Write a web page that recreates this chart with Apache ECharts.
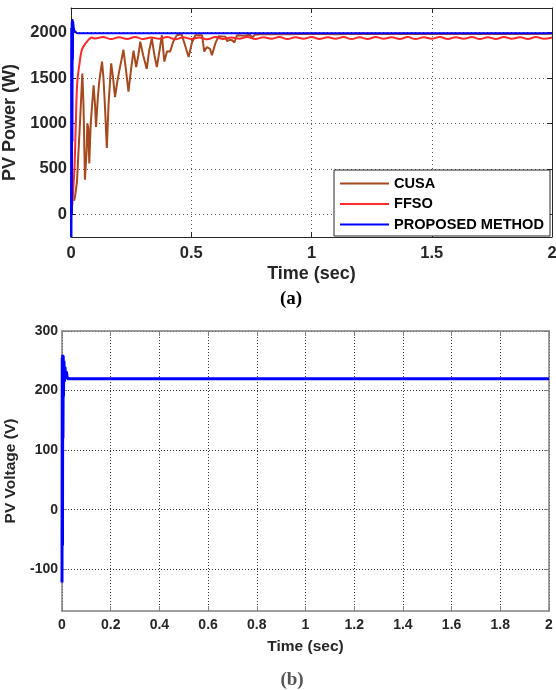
<!DOCTYPE html>
<html>
<head>
<meta charset="utf-8">
<script src="https://cdn.jsdelivr.net/npm/echarts@6/dist/echarts.min.js"></script>
<style>
  html, body { margin: 0; padding: 0; background: #fff; }
  #chart { width: 556px; height: 690px; }
</style>
</head>
<body>
<div id="chart"></div>
<script>
// ---- (a) PV power, three MPPT methods ----
const cusaTime = [0.0125, 0.017, 0.025, 0.031, 0.038, 0.047, 0.052, 0.058, 0.065, 0.068, 0.072, 0.076, 0.082, 0.094, 0.100, 0.104, 0.112, 0.118, 0.122, 0.129, 0.135, 0.141, 0.149, 0.156, 0.167, 0.175, 0.183, 0.192, 0.200, 0.210, 0.218, 0.228, 0.239, 0.250, 0.260, 0.271, 0.280, 0.288, 0.300, 0.315, 0.325, 0.336, 0.347, 0.357, 0.368, 0.378, 0.388, 0.399, 0.412, 0.425, 0.440, 0.460, 0.472, 0.489, 0.503, 0.517, 0.545, 0.554, 0.565, 0.578, 0.586, 0.600, 0.614, 0.642, 0.649, 0.660, 0.670, 0.679, 0.690, 0.720, 0.745, 0.753, 0.765, 0.800, 0.900, 1.000, 1.100, 1.200, 1.300, 1.400, 1.500, 1.600, 1.700, 1.800, 1.900, 2.000];
const cusaPower = [150, 200, 360, 680, 1040, 1550, 1200, 380, 700, 1000, 950, 560, 1000, 1420, 1200, 960, 1300, 1470, 1450, 1680, 1500, 1200, 730, 1200, 1660, 1500, 1290, 1450, 1570, 1700, 1810, 1600, 1350, 1600, 1800, 1620, 1750, 1900, 1750, 1600, 1800, 1935, 1750, 1620, 1800, 1970, 1680, 1790, 1790, 1900, 1970, 1980, 1880, 1730, 1890, 1970, 1970, 1790, 1840, 1820, 1750, 1880, 1960, 1955, 1905, 1920, 1915, 1890, 1970, 1965, 1975, 1945, 1975, 1985, 1980, 1988, 1982, 1988, 1984, 1988, 1985, 1988, 1984, 1988, 1985, 1987];

const ffsoTime = [0, 0.005, 0.010, 0.015, 0.020, 0.026, 0.035, 0.044, 0.055, 0.065, 0.075, 0.086, 0.100, 0.133, 0.167, 0.200, 0.233, 0.267, 0.300, 0.333, 0.367, 0.400, 0.433, 0.467, 0.500, 0.533, 0.567, 0.600, 0.633, 0.667, 0.700, 0.733, 0.767, 0.800, 0.833, 0.867, 0.900, 0.933, 0.967, 1.000, 1.033, 1.067, 1.100, 1.133, 1.167, 1.200, 1.233, 1.267, 1.300, 1.333, 1.367, 1.400, 1.433, 1.467, 1.500, 1.533, 1.567, 1.600, 1.633, 1.667, 1.700, 1.733, 1.767, 1.800, 1.833, 1.867, 1.900, 1.933, 1.967, 2.000];
const ffsoPower = [0, 100, 300, 550, 1000, 1450, 1650, 1800, 1860, 1895, 1925, 1945, 1935, 1950, 1928, 1948, 1930, 1950, 1928, 1945, 1932, 1950, 1925, 1948, 1930, 1945, 1925, 1950, 1930, 1946, 1932, 1950, 1930, 1948, 1932, 1950, 1928, 1948, 1932, 1950, 1930, 1948, 1932, 1950, 1928, 1948, 1930, 1950, 1932, 1948, 1930, 1950, 1928, 1948, 1932, 1950, 1930, 1948, 1932, 1950, 1928, 1948, 1930, 1950, 1932, 1948, 1930, 1950, 1932, 1946];

const proposedTime = [0, 0.001, 0.002, 0.003, 0.004, 0.005, 0.006, 0.007, 0.008, 0.009, 0.011, 0.014, 0.018, 0.025, 0.5, 1.0, 1.5, 2.0];
const proposedPower = [-250, 2050, -250, 2120, 0, 2150, 800, 2140, 1700, 2120, 2060, 2020, 2000, 1992, 1992, 1992, 1992, 1992];

// ---- (b) PV voltage, proposed method ----
const voltTime = [0, 0.001, 0.002, 0.003, 0.004, 0.005, 0.006, 0.008, 0.010, 0.012, 0.015, 0.018, 0.022, 0.026, 0.030, 0.5, 1.0, 1.5, 2.0];
const pvVoltage = [-122, 255, -60, 260, 120, 258, 190, 250, 215, 240, 222, 232, 220, 223, 220, 220, 220, 220, 220];

// tick positions
const timeTicksA = [0, 0.5, 1, 1.5, 2];
const powerTicks = [0, 500, 1000, 1500, 2000];
const timeTicksB = [0, 0.2, 0.4, 0.6, 0.8, 1, 1.2, 1.4, 1.6, 1.8, 2];
const voltTicks = [-100, 0, 100, 200, 300];

const zip = (t, v) => t.map((x, i) => [x, v[i]]);
const plain = (v) => String(Math.round(v * 1000) / 1000);

const SANS = 'Liberation Sans, Arial, sans-serif';
const SERIF = 'Liberation Serif, Times New Roman, serif';
const darkA = '#262626';
const greyB = '#808080';

function xAxisOf(gridIndex, ticks, color, lineW, opts) {
  return Object.assign({
    type: 'value', gridIndex, min: 0, max: 2,
    axisLine: { show: true, onZero: false, lineStyle: { color, width: lineW } },
    axisTick: { show: true, inside: true, length: 5, customValues: ticks, lineStyle: { color } },
  }, opts);
}
function yAxisOf(gridIndex, min, max, ticks, color, lineW, opts) {
  return Object.assign({
    type: 'value', gridIndex, min, max,
    axisLine: { show: true, onZero: false, lineStyle: { color, width: lineW } },
    axisTick: { show: true, inside: true, length: 5, customValues: ticks, lineStyle: { color } },
  }, opts);
}

const chart = echarts.init(document.getElementById('chart'), null, { renderer: 'canvas' });

chart.setOption({
  backgroundColor: '#fff',
  animation: false,
  title: [
    { text: '(a)', left: 286, top: 285, textAlign: 'center',
      textStyle: { fontFamily: SERIF, fontWeight: 'bold', fontSize: 19, color: '#000' } },
    { text: '(b)', left: 287, top: 666, textAlign: 'center',
      textStyle: { fontFamily: SERIF, fontWeight: 'bold', fontSize: 19, color: '#555' } }
  ],
  grid: [
    { left: 71, top: 8, width: 481, height: 229, containLabel: false, outerBoundsMode: 'none' },
    { left: 62, top: 331, width: 487, height: 280, containLabel: false, outerBoundsMode: 'none' }
  ],
  legend: {
    data: ['CUSA', 'FFSO', 'PROPOSED METHOD'],
    orient: 'vertical', left: 334, top: 170,
    padding: [6, 6, 4, 6],
    icon: 'rect',
    itemWidth: 49, itemHeight: 2, itemGap: 5.5,
    backgroundColor: '#fff', borderColor: darkA, borderWidth: 1, borderRadius: 0,
    textStyle: { fontFamily: SANS, fontWeight: 'bold', fontSize: 14.6, color: '#000', lineHeight: 15 }
  },
  xAxis: [
    xAxisOf(0, timeTicksA, darkA, 1, {
      position: 'bottom',
      name: 'Time (sec)', nameLocation: 'middle', nameGap: 28,
      nameTextStyle: { fontFamily: SANS, fontWeight: 'bold', fontSize: 18, color: darkA },
      axisLabel: { customValues: timeTicksA, formatter: plain, margin: 8, fontFamily: SANS, fontWeight: 'bold', fontSize: 16.5, color: darkA },
      splitLine: { show: true, lineStyle: { type: [1, 3], color: '#555', width: 1 } }
    }),
    xAxisOf(0, timeTicksA, darkA, 1, { position: 'top', axisLabel: { show: false }, splitLine: { show: false } }),
    xAxisOf(1, timeTicksB, greyB, 1.5, {
      position: 'bottom',
      name: 'Time (sec)', nameLocation: 'middle', nameGap: 28,
      nameTextStyle: { fontFamily: SANS, fontWeight: 'bold', fontSize: 15.5, color: darkA },
      axisLabel: { customValues: timeTicksB, formatter: plain, margin: 7, fontFamily: SANS, fontWeight: 'bold', fontSize: 14, color: darkA },
      splitLine: { show: true, lineStyle: { type: [1, 2], color: '#333', width: 1 } }
    }),
    xAxisOf(1, timeTicksB, greyB, 1.5, { position: 'top', axisLabel: { show: false }, splitLine: { show: false } })
  ],
  yAxis: [
    yAxisOf(0, -250, 2270, powerTicks, darkA, 1, {
      position: 'left',
      name: 'PV Power (W)', nameLocation: 'middle', nameGap: 45,
      nameTextStyle: { fontFamily: SANS, fontWeight: 'bold', fontSize: 18, color: darkA },
      axisLabel: { customValues: powerTicks, formatter: plain, margin: 4, fontFamily: SANS, fontWeight: 'bold', fontSize: 16.5, color: darkA },
      splitLine: { show: true, lineStyle: { type: [1, 3], color: '#555', width: 1 } }
    }),
    yAxisOf(0, -250, 2270, powerTicks, darkA, 1, { position: 'right', axisLabel: { show: false }, splitLine: { show: false } }),
    yAxisOf(1, -170, 300, voltTicks, greyB, 1.5, {
      position: 'left',
      name: 'PV Voltage (V)', nameLocation: 'middle', nameGap: 38,
      nameTextStyle: { fontFamily: SANS, fontWeight: 'bold', fontSize: 15.5, color: darkA },
      axisLabel: { customValues: voltTicks, formatter: plain, margin: 4, fontFamily: SANS, fontWeight: 'bold', fontSize: 14, color: darkA },
      splitLine: { show: true, lineStyle: { type: [1, 2], color: '#333', width: 1 } }
    }),
    yAxisOf(1, -170, 300, voltTicks, greyB, 1.5, { position: 'right', axisLabel: { show: false }, splitLine: { show: false } })
  ],
  series: [
    { name: 'CUSA', type: 'line', xAxisIndex: 0, yAxisIndex: 0, data: zip(cusaTime, cusaPower),
      symbol: 'none', lineStyle: { color: '#A54A1E', width: 2 }, itemStyle: { color: '#A54A1E' } },
    { name: 'FFSO', type: 'line', xAxisIndex: 0, yAxisIndex: 0, data: zip(ffsoTime, ffsoPower),
      symbol: 'none', smooth: 0.4, lineStyle: { color: '#FF2A2A', width: 2 }, itemStyle: { color: '#FF2A2A' } },
    { name: 'PROPOSED METHOD', type: 'line', xAxisIndex: 0, yAxisIndex: 0, data: zip(proposedTime, proposedPower),
      symbol: 'none', lineStyle: { color: '#0000FF', width: 2 }, itemStyle: { color: '#0000FF' } },
    { name: 'PV Voltage', type: 'line', xAxisIndex: 2, yAxisIndex: 2, data: zip(voltTime, pvVoltage),
      symbol: 'none', lineStyle: { color: '#0000FF', width: 3 }, itemStyle: { color: '#0000FF' } }
  ]
});
</script>
</body>
</html>
